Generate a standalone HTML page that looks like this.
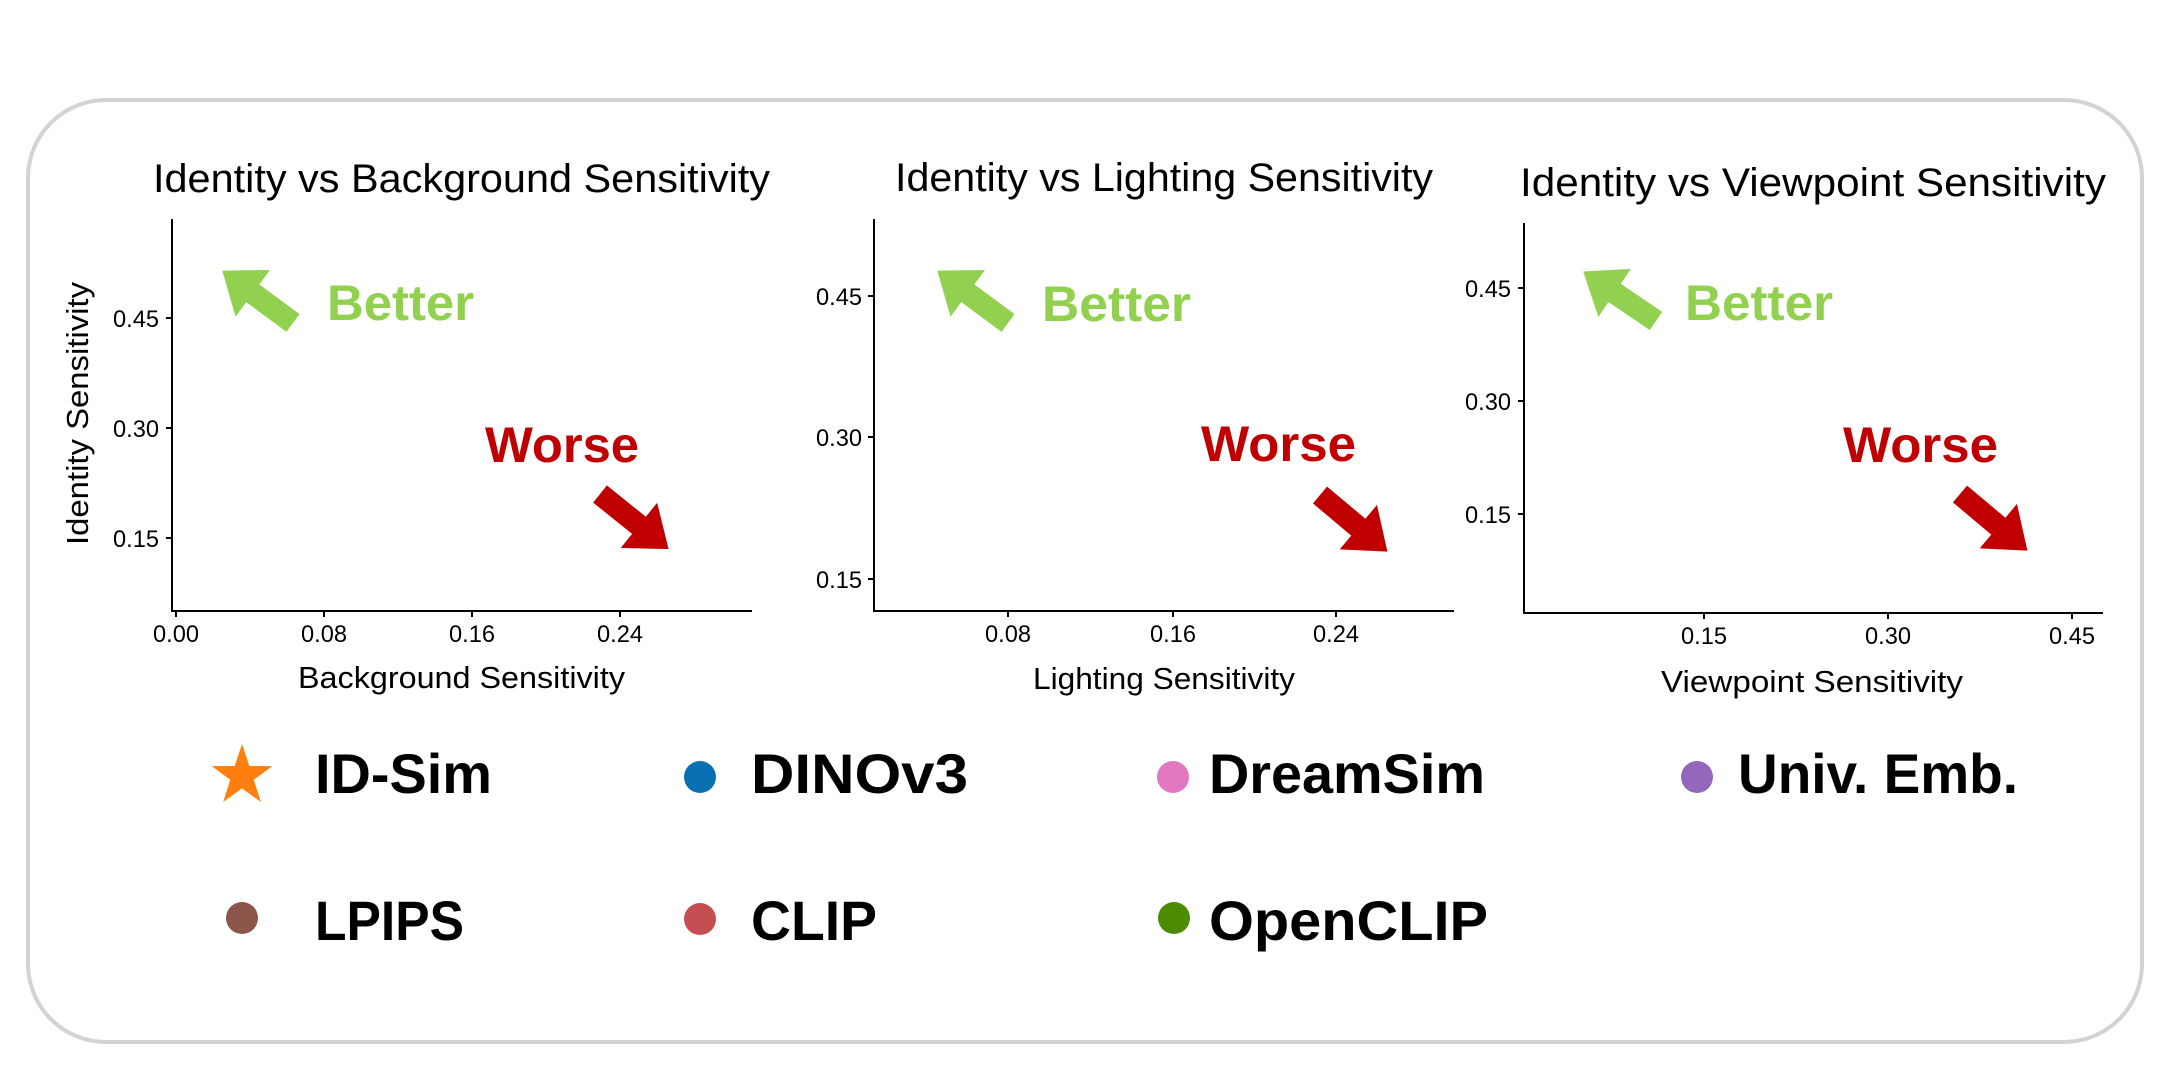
<!DOCTYPE html>
<html><head><meta charset="utf-8"><style>
html,body{margin:0;padding:0;background:#fff;}
svg{display:block;}
text{font-family:"Liberation Sans",sans-serif;}
.t{font-size:40px;fill:#000;}
.tk{font-size:24px;fill:#000;}
.lb{font-size:31px;fill:#000;}
.bt{font-size:50px;font-weight:bold;fill:#92d050;}
.wr{font-size:50px;font-weight:bold;fill:#c00000;}
.lg{font-size:56px;font-weight:bold;fill:#000;}
</style></head><body>
<svg width="2158" height="1080" viewBox="0 0 2158 1080" xmlns="http://www.w3.org/2000/svg">
<rect x="28" y="100" width="2114" height="942" rx="78" ry="78" fill="#fff" stroke="#d3d3d3" stroke-width="4"/>
<defs>
<polygon id="arr" points="0,-11 50,-11 50,-29 88,0 50,29 50,11 0,11"/>
</defs>

<!-- Panel 1 -->
<text class="t" x="153" y="192" textLength="617" lengthAdjust="spacingAndGlyphs">Identity vs Background Sensitivity</text>
<g stroke="#000" stroke-width="2" fill="none">
<path d="M172 219 V611 H752"/>
<path d="M176 611 v6 M324 611 v6 M472 611 v6 M620 611 v6"/>
<path d="M172 318 h-6 M172 428 h-6 M172 538 h-6"/>
</g>
<g class="tk">
<text x="153" y="642" textLength="46" lengthAdjust="spacingAndGlyphs">0.00</text>
<text x="301" y="642" textLength="46" lengthAdjust="spacingAndGlyphs">0.08</text>
<text x="449" y="642" textLength="46" lengthAdjust="spacingAndGlyphs">0.16</text>
<text x="597" y="642" textLength="46" lengthAdjust="spacingAndGlyphs">0.24</text>
<text x="113" y="327" textLength="46" lengthAdjust="spacingAndGlyphs">0.45</text>
<text x="113" y="437" textLength="46" lengthAdjust="spacingAndGlyphs">0.30</text>
<text x="113" y="547" textLength="46" lengthAdjust="spacingAndGlyphs">0.15</text>
</g>
<text class="lb" x="298" y="688" textLength="327" lengthAdjust="spacingAndGlyphs">Background Sensitivity</text>
<text class="lb" transform="translate(88,545) rotate(-90)" x="0" y="0" textLength="263" lengthAdjust="spacingAndGlyphs">Identity Sensitivity</text>
<use href="#arr" fill="#92d050" transform="translate(293,323) rotate(216.5)"/>
<text class="bt" x="327" y="320" textLength="147" lengthAdjust="spacingAndGlyphs">Better</text>
<text class="wr" x="485" y="462" textLength="154" lengthAdjust="spacingAndGlyphs">Worse</text>
<use href="#arr" fill="#c00000" transform="translate(600,494) rotate(38.8)"/>

<!-- Panel 2 -->
<text class="t" x="895" y="191" textLength="538" lengthAdjust="spacingAndGlyphs">Identity vs Lighting Sensitivity</text>
<g stroke="#000" stroke-width="2" fill="none">
<path d="M874 219 V611 H1454"/>
<path d="M1008 611 v6 M1173 611 v6 M1336 611 v6"/>
<path d="M874 296 h-6 M874 437 h-6 M874 579 h-6"/>
</g>
<g class="tk">
<text x="985" y="642" textLength="46" lengthAdjust="spacingAndGlyphs">0.08</text>
<text x="1150" y="642" textLength="46" lengthAdjust="spacingAndGlyphs">0.16</text>
<text x="1313" y="642" textLength="46" lengthAdjust="spacingAndGlyphs">0.24</text>
<text x="816" y="305" textLength="46" lengthAdjust="spacingAndGlyphs">0.45</text>
<text x="816" y="446" textLength="46" lengthAdjust="spacingAndGlyphs">0.30</text>
<text x="816" y="588" textLength="46" lengthAdjust="spacingAndGlyphs">0.15</text>
</g>
<text class="lb" x="1033" y="689" textLength="262" lengthAdjust="spacingAndGlyphs">Lighting Sensitivity</text>
<use href="#arr" fill="#92d050" transform="translate(1008,323) rotate(216.5)"/>
<text class="bt" x="1042" y="321" textLength="149" lengthAdjust="spacingAndGlyphs">Better</text>
<text class="wr" x="1201" y="461" textLength="155" lengthAdjust="spacingAndGlyphs">Worse</text>
<use href="#arr" fill="#c00000" transform="translate(1320,495) rotate(40)"/>

<!-- Panel 3 -->
<text class="t" x="1520" y="196" textLength="586" lengthAdjust="spacingAndGlyphs">Identity vs Viewpoint Sensitivity</text>
<g stroke="#000" stroke-width="2" fill="none">
<path d="M1524 223 V613 H2103"/>
<path d="M1704 613 v6 M1888 613 v6 M2072 613 v6"/>
<path d="M1524 288 h-6 M1524 401 h-6 M1524 514 h-6"/>
</g>
<g class="tk">
<text x="1681" y="644" textLength="46" lengthAdjust="spacingAndGlyphs">0.15</text>
<text x="1865" y="644" textLength="46" lengthAdjust="spacingAndGlyphs">0.30</text>
<text x="2049" y="644" textLength="46" lengthAdjust="spacingAndGlyphs">0.45</text>
<text x="1465" y="297" textLength="46" lengthAdjust="spacingAndGlyphs">0.45</text>
<text x="1465" y="410" textLength="46" lengthAdjust="spacingAndGlyphs">0.30</text>
<text x="1465" y="523" textLength="46" lengthAdjust="spacingAndGlyphs">0.15</text>
</g>
<text class="lb" x="1661" y="692" textLength="302" lengthAdjust="spacingAndGlyphs">Viewpoint Sensitivity</text>
<use href="#arr" fill="#92d050" transform="translate(1656,321) rotate(214.2)"/>
<text class="bt" x="1685" y="320" textLength="148" lengthAdjust="spacingAndGlyphs">Better</text>
<text class="wr" x="1843" y="462" textLength="155" lengthAdjust="spacingAndGlyphs">Worse</text>
<use href="#arr" fill="#c00000" transform="translate(1960,494) rotate(40)"/>

<!-- Legend -->
<polygon fill="#ff7f0e" transform="translate(242,776)" points="0,-32 7.3,-10 30.4,-9.9 11.8,3.8 18.8,25.9 0,12.4 -18.8,25.9 -11.8,3.8 -30.4,-9.9 -7.3,-10"/>
<text class="lg" x="315" y="793" textLength="177" lengthAdjust="spacingAndGlyphs">ID-Sim</text>
<circle cx="700" cy="777" r="16" fill="#0a6fb0"/>
<text class="lg" x="751" y="793" textLength="217" lengthAdjust="spacingAndGlyphs">DINOv3</text>
<circle cx="1173" cy="777" r="16" fill="#e377c2"/>
<text class="lg" x="1209" y="793" textLength="276" lengthAdjust="spacingAndGlyphs">DreamSim</text>
<circle cx="1697" cy="777" r="16" fill="#9467bd"/>
<text class="lg" x="1738" y="793" textLength="280" lengthAdjust="spacingAndGlyphs">Univ. Emb.</text>
<circle cx="242" cy="918" r="16" fill="#8c564b"/>
<text class="lg" x="315" y="940" textLength="149" lengthAdjust="spacingAndGlyphs">LPIPS</text>
<circle cx="700" cy="919" r="16" fill="#c44e52"/>
<text class="lg" x="751" y="940" textLength="126" lengthAdjust="spacingAndGlyphs">CLIP</text>
<circle cx="1174" cy="918" r="16" fill="#4c8c00"/>
<text class="lg" x="1209" y="940" textLength="279" lengthAdjust="spacingAndGlyphs">OpenCLIP</text>
</svg>
</body></html>
